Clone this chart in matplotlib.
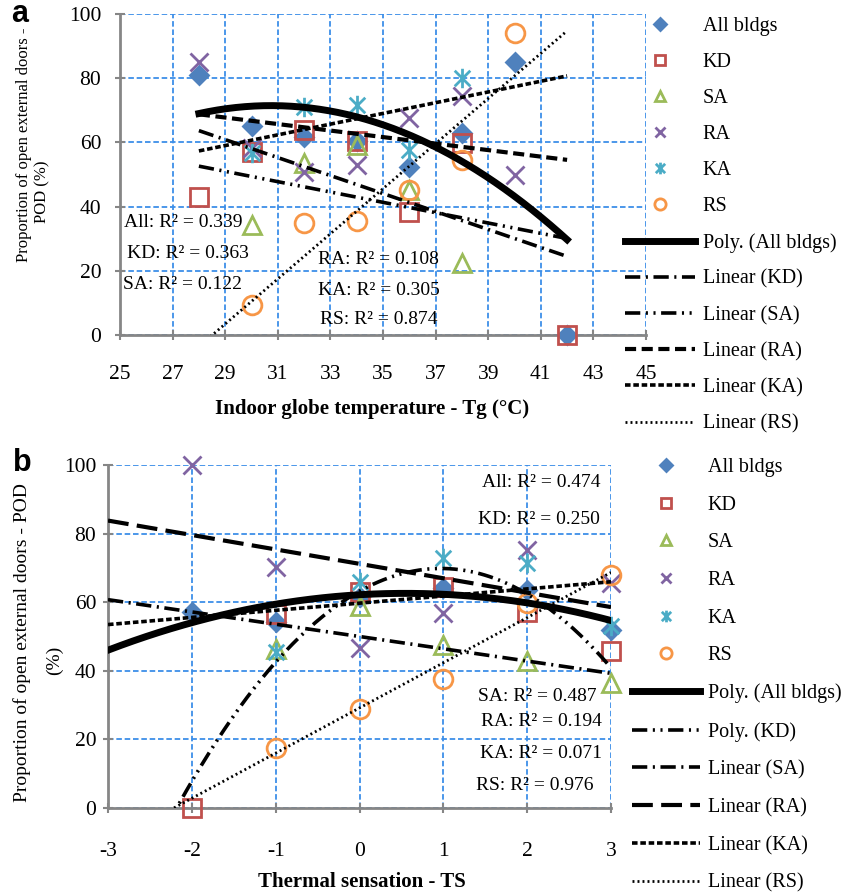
import numpy as np
import matplotlib.pyplot as plt
from matplotlib.path import Path

plt.rcParams['font.family'] = ['Liberation Serif', 'DejaVu Serif']
plt.rcParams['lines.scale_dashes'] = False
plt.rcParams['axes.unicode_minus'] = False

nan = np.nan

# panel a: indoor globe temperature (degC) vs proportion of open doors (%)
tg = [28, 30, 32, 34, 36, 38, 40, 42]
a_all = [81, 65, 61.7, 60.5, 52.4, 62.9, 85, 0]
a_kd = [43, 57, 64, 60.4, 38.3, 59.8, nan, 0]
a_sa = [nan, 34.3, 53.6, 59.2, 45.2, 22.4, nan, nan]
a_ra = [85, 58.2, 50.9, 53, 67.5, 74.3, 49.8, nan]
a_ka = [nan, 56.6, 71, 71.6, 57.6, 80, nan, nan]
a_rs = [nan, 9.3, 35, 35.5, 45.2, 54.5, 94, nan]

# panel b: thermal sensation vs proportion of open doors (%)
ts = [-2, -1, 0, 1, 2, 3]
b_all = [57.2, 54.2, 61.5, 64, 63.5, 52]
b_kd = [0, 56.5, 63, 64.3, 57, 45.8]
b_sa = [nan, 46.4, 58.8, 47.5, 43, 36.4]
b_ra = [100, 70.3, 46.6, 56.8, 75.2, 65.6]
b_ka = [nan, 45.5, 66, 72.9, 71.4, 53.2]
b_rs = [nan, 17.5, 28.9, 37.6, 59.8, 67.9]

names = ['All bldgs', 'KD', 'SA', 'RA', 'KA', 'RS']

a_r2 = ['All: R² = 0.339', 'KD: R² = 0.363', 'SA: R² = 0.122',
        'RA: R² = 0.108', 'KA: R² = 0.305', 'RS: R² = 0.874']
b_r2 = ['All: R² = 0.474', 'KD: R² = 0.250', 'SA: R² = 0.487',
        'RA: R² = 0.194', 'KA: R² = 0.071', 'RS: R² = 0.976']

asterisk = Path([(0, -1), (0, 1), (-0.8, -0.8), (0.8, 0.8), (-0.8, 0.8), (0.8, -0.8)],
                [Path.MOVETO, Path.LINETO] * 3)

# color, marker, size, filled
mstyle = [('#4F81BD', 'D', 9.5, True),
          ('#C0504D', 's', 12.5, False),
          ('#9BBB59', '^', 13, False),
          ('#8064A2', 'x', 13, False),
          ('#4BACC6', asterisk, 14, False),
          ('#F79646', 'o', 13.5, False)]

solid = dict(lw=5, ls='-')
dashdot = dict(lw=2.6, ls=(0, (11, 4, 1.5, 4)))
dashdotdot = dict(lw=2.6, ls=(0, (11, 4, 1.5, 4, 1.5, 4)))
dash = dict(lw=3, ls=(0, (8, 4)))
longdash = dict(lw=3, ls=(0, (15, 6)))
shortdash = dict(lw=2.6, ls=(0, (4, 2)))
dotted = dict(lw=2, ls=(0, (1.4, 2.2)))

GRID = '#3D8FE8'
AXC = '#868686'


def fit(x, y, deg, xs):
    x = np.asarray(x, float)
    y = np.asarray(y, float)
    m = ~np.isnan(y)
    return np.polyval(np.polyfit(x[m], y[m], deg), xs)


def style_axes(ax, xpad, ypad):
    ax.set_ylim(0, 100)
    ax.set_yticks(range(0, 101, 20))
    ax.grid(True, color=GRID, ls=(0, (4, 2)), lw=1.3)
    ax.set_axisbelow(True)
    for s in ['top', 'right']:
        ax.spines[s].set_visible(False)
    for s in ['left', 'bottom']:
        ax.spines[s].set_color(AXC)
        ax.spines[s].set_linewidth(2)
    ax.tick_params(direction='inout', length=7, width=1.5, color=AXC, labelsize=15.5)
    ax.tick_params(axis='x', pad=xpad)
    ax.tick_params(axis='y', pad=ypad)


def scatter(ax, xs, series):
    for (c, mk, ms, filled), y, name in zip(mstyle, series, names):
        ax.plot(xs, y, ls='none', marker=mk, ms=ms, mec=c,
                mfc=c if filled else 'none', mew=2, label=name, zorder=3,
                clip_on=False)


fig = plt.figure(figsize=(8.43, 8.92), dpi=100)

# ---------- panel a ----------
ax = fig.add_axes([120 / 843, 1 - 335 / 892, 526 / 843, 321 / 892])
style_axes(ax, 18, 10)
ax.set_xlim(25, 45)
ax.set_xticks(range(25, 46, 2))
scatter(ax, tg, [a_all, a_kd, a_sa, a_ra, a_ka, a_rs])

xa = np.linspace(28, 42, 200)
a_trends = [(a_all, 2, solid, 'Poly. (All bldgs)'),
            (a_kd, 1, dashdot, 'Linear (KD)'),
            (a_sa, 1, dashdotdot, 'Linear (SA)'),
            (a_ra, 1, dash, 'Linear (RA)'),
            (a_ka, 1, shortdash, 'Linear (KA)'),
            (a_rs, 1, dotted, 'Linear (RS)')]
for y, deg, st, lab in a_trends:
    ax.plot(xa, fit(tg, y, deg, xa), color='black', label=lab, zorder=4, **st)

a_pos = [(25.17, 34.9), (25.25, 25.5), (25.13, 15.6),
         (32.52, 23.4), (32.52, 14.0), (32.6, 4.7)]
for (x, y), t in zip(a_pos, a_r2):
    ax.text(x, y, t, fontsize=14, ha='left', va='center', zorder=5)

ax.set_xlabel('Indoor globe temperature - Tg (°C)', fontsize=15, fontweight='bold')
ax.xaxis.set_label_coords(0.479, -0.2305)
ax.xaxis.label.set_va('center')

ax.legend(loc='upper left', bbox_to_anchor=(625 / 843, 1 - 17 / 892),
          bbox_transform=fig.transFigure, frameon=False, fontsize=14.5,
          borderpad=0, borderaxespad=0, handlelength=3.5, handletextpad=0.35,
          labelspacing=0.84, markerscale=0.6, numpoints=1)

fig.text(24 / 843, 1 - 145 / 892, 'Proportion of open external doors -',
         rotation=90, ha='center', va='center', fontsize=12)
fig.text(42 / 843, 1 - 192 / 892, 'POD (%)', rotation=90, ha='center',
         va='center', fontsize=12)
fig.text(20 / 843, 1 - 14 / 892, 'a', family='Liberation Sans', fontweight='bold',
         fontsize=22, ha='center', va='center')

# ---------- panel b ----------
bx = fig.add_axes([108 / 843, 1 - 808 / 892, 503 / 843, 343 / 892])
style_axes(bx, 21, 5)
bx.set_xlim(-3, 3)
bx.set_xticks(range(-3, 4))
scatter(bx, ts, [b_all, b_kd, b_sa, b_ra, b_ka, b_rs])

xb = np.linspace(-3, 3, 200)
b_trends = [(b_all, 2, solid, 'Poly. (All bldgs)'),
            (b_kd, 2, dashdotdot, 'Poly. (KD)'),
            (b_sa, 1, dashdot, 'Linear (SA)'),
            (b_ra, 1, longdash, 'Linear (RA)'),
            (b_ka, 1, shortdash, 'Linear (KA)'),
            (b_rs, 1, dotted, 'Linear (RS)')]
for y, deg, st, lab in b_trends:
    bx.plot(xb, fit(ts, y, deg, xb), color='black', label=lab, zorder=4, **st)

b_pos = [(2.87, 95), (2.87, 84), (2.83, 32.4),
         (2.89, 25.1), (2.89, 16), (2.79, 6.7)]
for (x, y), t in zip(b_pos, b_r2):
    bx.text(x, y, t, fontsize=14, ha='right', va='center', zorder=5)

bx.set_xlabel('Thermal sensation - TS', fontsize=15, fontweight='bold')
bx.xaxis.set_label_coords(0.505, -0.215)
bx.xaxis.label.set_va('center')

bx.legend(loc='upper left', bbox_to_anchor=(632 / 843, 1 - 458 / 892),
          bbox_transform=fig.transFigure, frameon=False, fontsize=14.5,
          borderpad=0, borderaxespad=0, handlelength=3.4, handletextpad=0.35,
          labelspacing=0.92, markerscale=0.6, numpoints=1)

fig.text(22 / 843, 1 - 643 / 892, 'Proportion of open external doors - POD',
         rotation=90, ha='center', va='center', fontsize=14)
fig.text(54 / 843, 1 - 660 / 892, '(%)', rotation=90, ha='center',
         va='center', fontsize=14)
fig.text(22 / 843, 1 - 463 / 892, 'b', family='Liberation Sans', fontweight='bold',
         fontsize=22, ha='center', va='center')

fig.savefig('out.png', dpi=100)
